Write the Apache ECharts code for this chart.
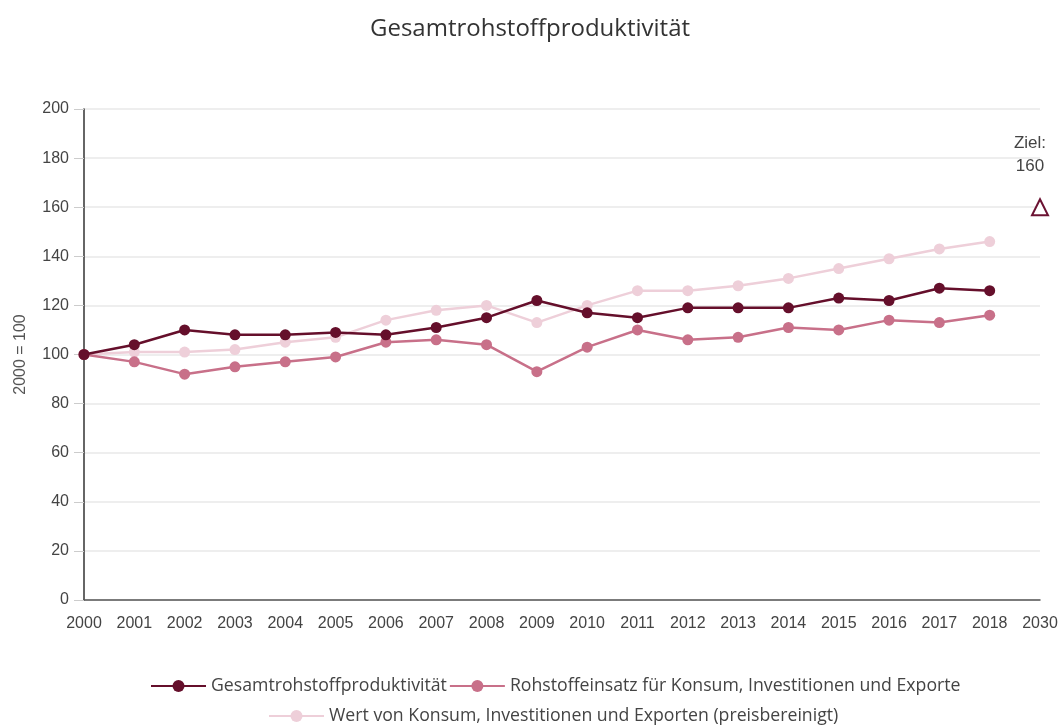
<!DOCTYPE html>
<html><head><meta charset="utf-8">
<script src="https://cdn.jsdelivr.net/npm/echarts@6/dist/echarts.min.js"></script>
<style>html,body{margin:0;padding:0;background:#fff}#c{width:1060px;height:725px}</style>
</head><body><div id="c"></div>
<script>
const years = ['2000','2001','2002','2003','2004','2005','2006','2007','2008','2009','2010','2011','2012','2013','2014','2015','2016','2017','2018','2030'];
const gesamt = [100,104,110,108,108,109,108,111,115,122,117,115,119,119,119,123,122,127,126,null];
const rohstoff = [100,97,92,95,97,99,105,106,104,93,103,110,106,107,111,110,114,113,116,null];
const wert = [100,101,101,102,105,107,114,118,120,113,120,126,126,128,131,135,139,143,146,null];
const ziel = [null,null,null,null,null,null,null,null,null,null,null,null,null,null,null,null,null,null,null,160];
const yTicks = [0,20,40,60,80,100,120,140,160,180,200];
const names = ['Gesamtrohstoffproduktivität','Rohstoffeinsatz für Konsum, Investitionen und Exporte','Wert von Konsum, Investitionen und Exporten (preisbereinigt)'];
const colors = ['#650f2b','#c87089','#eecfd9'];

const chart = echarts.init(document.getElementById('c'));
function line(name, data, color, z){
  return {name, type:'line', data, z, color,
    symbol:'circle', symbolSize:11, showSymbol:true,
    lineStyle:{width:2.5, color}, itemStyle:{color},
    emphasis:{disabled:true}, animation:false};
}
const legendText = {fontFamily:'Open Sans', fontSize:17.7, color:'#444', lineHeight:28};
chart.setOption({
  animation:false,
  title:{text:'Gesamtrohstoffproduktivität', left:'center', top:12,
    textStyle:{fontFamily:'Open Sans', fontSize:24, fontWeight:'normal', color:'#333'}},
  grid:{left:84, right:20, top:109, bottom:125, containLabel:false, outerBoundsMode:'none'},
  legend:[
    {data:names.slice(0,2), left:150, top:672, padding:0, itemGap:2, itemWidth:55, itemHeight:15, textStyle:legendText},
    {data:names.slice(2), left:268, top:702, padding:0, itemGap:2, itemWidth:55, itemHeight:15, textStyle:legendText}
  ],
  xAxis:{type:'category', data:years, boundaryGap:false,
    axisLine:{lineStyle:{color:'#555', width:1.5}},
    axisTick:{show:false},
    axisLabel:{fontFamily:'Liberation Sans', fontSize:16, color:'#444', margin:16, interval:0},
    splitLine:{show:false}},
  yAxis:{type:'value', min:yTicks[0], max:yTicks[yTicks.length-1], interval:20,
    name:'2000 = 100', nameLocation:'middle', nameGap:55, nameRotate:90,
    nameTextStyle:{fontFamily:'Liberation Sans', fontSize:16, color:'#555'},
    axisLine:{show:true, lineStyle:{color:'#333', width:1.5}},
    axisTick:{show:true, length:10, lineStyle:{color:'#ccc'}},
    axisLabel:{fontFamily:'Liberation Sans', fontSize:16, color:'#444', margin:15},
    splitLine:{lineStyle:{color:'#e8e8e8', width:1.5}}},
  series:[
    line(names[2], wert, colors[2], 2),
    line(names[1], rohstoff, colors[1], 3),
    line(names[0], gesamt, colors[0], 4),
    {name:'Ziel', type:'line', data:ziel, symbol:'emptyTriangle', symbolSize:16,
      itemStyle:{color:'#6b1232', borderWidth:2.5}, lineStyle:{width:0}, z:5,
      label:{show:true, position:'top', distance:20, offset:[-10,0], formatter:'Ziel:\n160',
        fontFamily:'Liberation Sans', fontSize:17, color:'#444', align:'center', lineHeight:23},
      emphasis:{disabled:true}}
  ]
});
</script></body></html>
